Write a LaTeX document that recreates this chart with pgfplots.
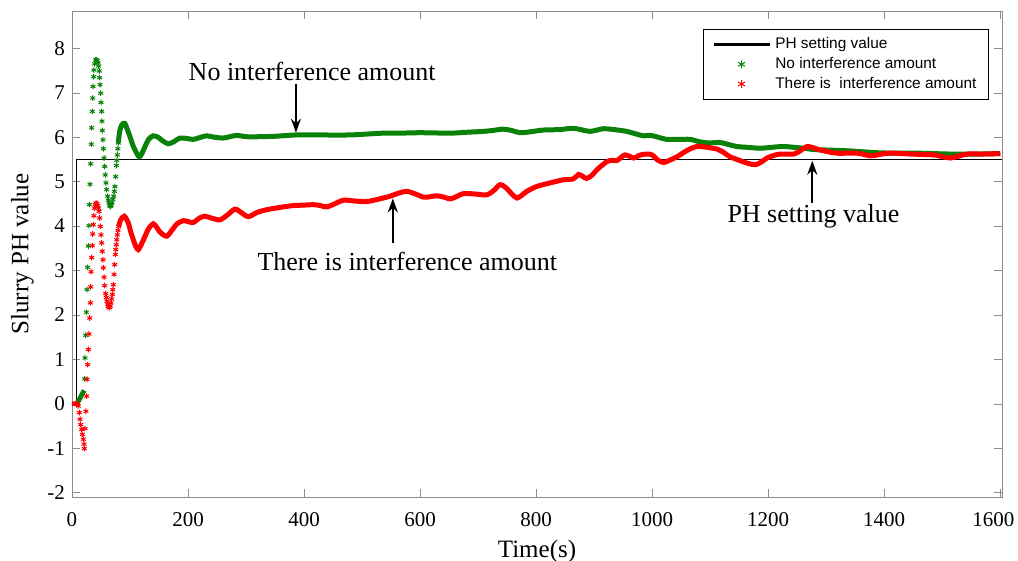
\documentclass[border=0pt]{standalone}
\usepackage{fontspec}
\setmainfont{Liberation Serif}
\newfontfamily\legfont{Liberation Sans}
\usepackage{pgfplots}
\pgfplotsset{compat=1.18}
\usetikzlibrary{arrows.meta}

\definecolor{pgreen}{RGB}{10,130,10}
\definecolor{pred}{RGB}{255,0,0}
\definecolor{axgray}{RGB}{140,140,140}

\pgfplotsset{
  legline/.style={legend image code/.code={\draw[##1, line width=1.8pt] (0pt,0pt) -- (28pt,0pt);}},
  legmark/.style={legend image code/.code={\draw[##1, mark size=2pt] plot coordinates {(14pt,0pt)};}},
}

\begin{document}
\begin{tikzpicture}
\begin{axis}[
  scale only axis,
  width=465pt, height=243pt,
  xmin=0, xmax=1603, ymin=-2.1, ymax=8.84,
  xtick={0,200,...,1600}, ytick={-2,-1,...,8},
  xticklabels={0,200,400,600,800,1000,1200,1400,\hspace*{-7pt}1600},
  tick align=inside,
  major tick length=4pt,
  axis line style={axgray},
  major tick style={axgray},
  /pgf/number format/assume math mode=true,
  /pgf/number format/1000 sep={},
  tick label style={font=\fontsize{10.5}{12}\selectfont},
  xticklabel style={yshift=-4pt},
  xlabel={Time(s)}, ylabel={Slurry PH value},
  label style={font=\fontsize{12.5}{14}\selectfont},
  legend cell align=left,
  legend style={at={(rel axis cs:0.986,0.963)}, anchor=north east,
    draw=black, line width=0.5pt, inner xsep=4pt, inner ysep=2pt,
    row sep=-1.2pt,
    font=\legfont\fontsize{7.7}{9.5}\selectfont},
]
% PH setting value
\addplot[black, line width=0.8pt, legline]
  coordinates {(0,0) (8,0) (8,5.5) (1603,5.5)};
\addlegendentry{PH setting value}

% No interference amount: fast part, sampled points
\addplot[pgreen, only marks, mark=asterisk, mark size=1.4pt, line width=0.5pt, legmark]
  coordinates {
  (21.8,0.56) (22.4,1.03) (23.6,1.54) (24.7,2.06) (25.9,2.57) (27,3.07)
  (28.1,3.55) (29.3,4.01) (29.9,4.48) (31,4.94) (32.2,5.4) (33.3,5.84)
  (33.9,6.21) (35,6.58) (35.7,6.88) (36.2,7.14) (37.4,7.36) (37.9,7.51)
  (39,7.65) (40.8,7.74) (42.2,7.74) (43.6,7.72) (45,7.67) (46,7.6)
  (47.1,7.49) (47.7,7.34) (48.3,7.18) (49.5,6.99) (50,6.78) (51.2,6.58)
  (51.7,6.36) (52.2,6.15) (53.4,5.94) (54,5.74) (55.2,5.53) (56.4,5.34)
  (57.4,5.15) (58.6,4.97) (59.8,4.82) (61.5,4.67) (62.6,4.58) (63.8,4.52)
  (65,4.46) (66,4.44) (67.5,4.46) (69,4.52) (70.5,4.6) (71.8,4.67)
  (73,4.78) (74.1,4.89) (75.3,5.11) (76.4,5.36) (77.2,5.48) (78.1,5.6)
  (79,5.74) (79.8,5.87)
  };
\addlegendentry{No interference amount}

% There is interference amount: fast part
\addplot[pred, only marks, mark=asterisk, mark size=1.4pt, line width=0.5pt, legmark]
  coordinates {
  (10.9,-0.05) (12.6,-0.2) (13.8,-0.35) (15,-0.47) (16.7,-0.58) (17.8,-0.69)
  (19.5,-0.8) (20.7,-0.91) (21.2,-1.01) (22.4,-0.56) (24.1,-0.17) (25.3,0.17)
  (25.9,0.55) (27,0.88) (28.1,1.22) (29.3,1.57) (30.5,1.93) (31.6,2.27)
  (32.2,2.63) (32.8,2.97) (33.9,3.29) (35,3.56) (35.7,3.82) (36.7,4.03)
  (37.9,4.23) (39,4.4) (40.2,4.48) (41.4,4.52) (42.8,4.5) (44.3,4.46)
  (45.5,4.4) (46.6,4.33) (47.7,4.18) (48.8,3.99) (50,3.8) (51.2,3.62)
  (52.2,3.43) (53.4,3.24) (54,3.06) (55.2,2.85) (56.4,2.66) (58.1,2.48)
  (59.2,2.39) (60.3,2.31) (61.5,2.24) (62.6,2.19) (63.8,2.16) (65,2.17)
  (66,2.2) (67.2,2.27) (68.4,2.36) (69.5,2.46) (70.3,2.57) (71.2,2.68)
  (72.4,2.91) (73.6,3.13) (74.7,3.36) (75.5,3.47) (76.4,3.58) (77.2,3.69)
  (78.1,3.8) (79.3,3.9) (80.5,3.99)
  };
\addlegendentry{There is\ \ interference amount}

% slow parts, drawn as the dense band
\addplot[pgreen, line width=2.4pt, forget plot]
  coordinates {(8,0) (12,0.08) (16,0.18) (21,0.3)};
\addplot[pgreen, line width=2.5pt, smooth, forget plot]
  coordinates {
  (79.8,5.87) (82.2,6.13) (86,6.28) (91,6.31) (96,6.15) (100,6.01)
  (104,5.85) (108.6,5.71) (115.5,5.56) (120,5.62) (125.9,5.79) (132,5.95)
  (140,6.03) (148,6.0) (156,5.92) (166,5.85) (176,5.9) (186,5.98)
  (198,5.97) (209,5.95) (220,5.99) (232,6.03) (245,6.0) (260,5.98)
  (272,6.01) (284,6.04) (300,6.01) (324,6.01) (350,6.02) (387,6.05)
  (420,6.05) (479,6.05) (536,6.09) (565,6.09) (600,6.1) (652,6.09)
  (680,6.11) (709,6.13) (725,6.15) (743,6.18) (758,6.15) (772,6.1)
  (790,6.12) (812,6.16) (840,6.17) (864,6.2) (880,6.16) (893,6.13)
  (905,6.16) (916,6.19) (935,6.17) (956,6.13) (970,6.08) (985,6.03)
  (997,6.04) (1010,6.0) (1025,5.95) (1045,5.95) (1066,5.95) (1080,5.9)
  (1097,5.87) (1117,5.88) (1130,5.84) (1146,5.79) (1165,5.77) (1186,5.75)
  (1205,5.77) (1226,5.79) (1245,5.77) (1261,5.75) (1280,5.72) (1301,5.71)
  (1341,5.69) (1387,5.65) (1420,5.64) (1456,5.64) (1514,5.62) (1560,5.62)
  (1600,5.63)
  };
\addplot[pred, line width=2.4pt, forget plot]
  coordinates {(0,0) (5,0) (9,0) (10.9,-0.05)};
\addplot[pred, line width=2.5pt, smooth, forget plot]
  coordinates {
  (80.5,3.99) (84,4.14) (90.2,4.22) (97,4.07) (101,3.88) (105.7,3.69)
  (110,3.54) (114.3,3.47) (120,3.6) (125.9,3.77) (132,3.94) (140,4.05)
  (146,3.97) (152,3.86) (163,3.77) (172,3.9) (181,4.05) (192,4.12)
  (200,4.1) (209,4.08) (220,4.18) (229,4.22) (240,4.18) (255,4.14)
  (268,4.25) (281,4.38) (292,4.3) (304,4.21) (318,4.3) (330,4.35)
  (341,4.38) (364,4.43) (382,4.46) (400,4.47) (416,4.48) (428,4.46)
  (439,4.43) (453,4.5) (468,4.58) (490,4.56) (508,4.55) (527,4.6)
  (548,4.67) (563,4.74) (577,4.78) (592,4.72) (606,4.65) (618,4.66)
  (629,4.68) (641,4.65) (652,4.61) (664,4.67) (675,4.73) (695,4.72)
  (715,4.7) (727,4.8) (738,4.93) (749,4.85) (758,4.72) (767,4.63)
  (776,4.7) (784,4.78) (801,4.89) (824,4.97) (847,5.04) (864,5.06)
  (873,5.16) (880,5.12) (887,5.07) (896,5.14) (905,5.27) (914,5.37)
  (922,5.45) (930,5.48) (939,5.47) (946,5.54) (953,5.6) (961,5.57)
  (968,5.53) (980,5.6) (991,5.62) (1000,5.6) (1010,5.48) (1020,5.43)
  (1030,5.48) (1043,5.56) (1060,5.7) (1077,5.79) (1095,5.77) (1112,5.73)
  (1124,5.65) (1134,5.56) (1152,5.47) (1165,5.41) (1178,5.38) (1188,5.44)
  (1198,5.53) (1210,5.59) (1221,5.62) (1244,5.62) (1256,5.7) (1267,5.79)
  (1278,5.76) (1290,5.71) (1318,5.64) (1353,5.64) (1376,5.58) (1392,5.61)
  (1410,5.64) (1445,5.62) (1485,5.6) (1500,5.56) (1514,5.53) (1528,5.57)
  (1543,5.62) (1570,5.62) (1600,5.63)
  };

% annotations
\node[font=\fontsize{13}{15}\selectfont] at (axis cs:414,7.47) {No interference amount};
\draw[-{Stealth[length=7pt,width=5pt]}, line width=1.1pt] (axis cs:386,7.2) -- (axis cs:386,6.1);
\node[font=\fontsize{13}{15}\selectfont] at (axis cs:578,3.2) {There is interference amount};
\draw[-{Stealth[length=7pt,width=5pt]}, line width=1.1pt] (axis cs:553,3.62) -- (axis cs:553,4.62);
\node[font=\fontsize{13}{15}\selectfont] at (axis cs:1278,4.23) {PH setting value};
\draw[-{Stealth[length=7pt,width=5pt]}, line width=1.1pt] (axis cs:1276,4.52) -- (axis cs:1276,5.47);
\end{axis}
\pgfresetboundingbox
\useasboundingbox ([xshift=-36pt,yshift=-32pt]current axis.south west)
  rectangle ([xshift=8pt,yshift=5.5pt]current axis.north east);
\end{tikzpicture}
\end{document}
